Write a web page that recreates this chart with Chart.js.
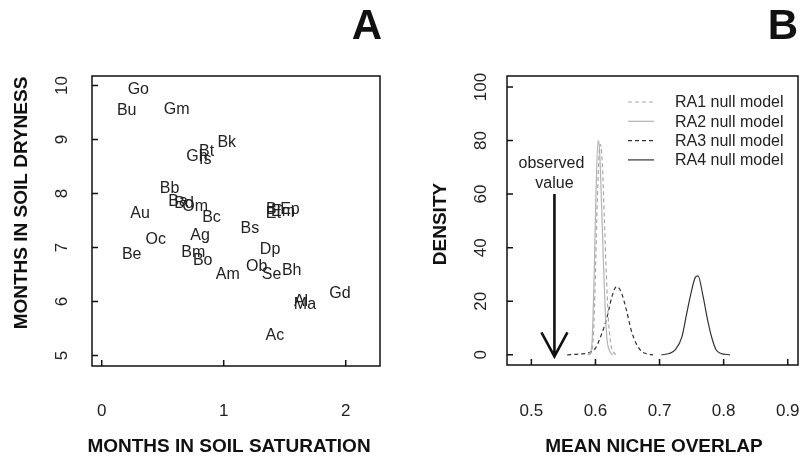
<!DOCTYPE html>
<html>
<head>
<meta charset="utf-8">
<script src="https://cdn.jsdelivr.net/npm/chart.js@4"></script>
<style>
  body { margin: 0; background: #fff; }
  canvas { position: absolute; left: 0; top: 0; }
</style>
</head>
<body>
<canvas id="panelA" width="801" height="463"></canvas>
<canvas id="panelB" width="801" height="463"></canvas>
<script>
// Panel A: especies y meses
const especies   = ["Go", "Bu", "Gm", "Bk", "Bt", "Gh", "Is", "Bb", "Ba", "Bd", "Om", "Bc", "Bs", "Br", "Em", "Ep", "Et", "Au", "Oc", "Ag", "Be", "Bm", "Bo", "Am", "Dp", "Ob", "Se", "Bh", "Gd", "Al", "Ma", "Ac"];
const saturacion = [0.30, 0.205, 0.615, 1.025, 0.86, 0.78, 0.848, 0.556, 0.626, 0.675, 0.766, 0.90, 1.215, 1.412, 1.486, 1.543, 1.407, 0.314, 0.443, 0.806, 0.246, 0.751, 0.828, 1.033, 1.38, 1.27, 1.393, 1.557, 1.953, 1.634, 1.666, 1.42];
const sequia     = [9.92, 9.54, 9.55, 8.95, 8.77, 8.68, 8.63, 8.09, 7.85, 7.81, 7.76, 7.55, 7.35, 7.70, 7.67, 7.70, 7.62, 7.63, 7.15, 7.23, 6.86, 6.90, 6.75, 6.49, 6.96, 6.64, 6.49, 6.57, 6.15, 5.99, 5.95, 5.36];
const ticksSaturacion = [0, 1, 2];
const ticksSequia = [5, 6, 7, 8, 9, 10];

// Panel B: densidades de los modelos nulos
const ra1X = [0.590, 0.594, 0.597, 0.600, 0.603, 0.606, 0.608, 0.611, 0.614, 0.617, 0.620, 0.624, 0.628, 0.633];
const ra1Y = [0, 1, 8, 30, 58, 76, 78.5, 70, 50, 30, 14, 4, 1, 0];
const ra2X = [0.588, 0.592, 0.595, 0.598, 0.601, 0.604, 0.606, 0.609, 0.612, 0.615, 0.618, 0.622, 0.627];
const ra2Y = [0, 1, 6, 30, 62, 80, 78, 60, 38, 18, 6, 1.5, 0];
const ra3X = [0.556, 0.575, 0.590, 0.600, 0.610, 0.618, 0.626, 0.633, 0.640, 0.648, 0.656, 0.664, 0.672, 0.680, 0.690];
const ra3Y = [0, 0.3, 0.8, 2.5, 8, 14, 22, 25.5, 23.5, 17, 9, 4, 1.3, 0.4, 0];
const ra4X = [0.703, 0.715, 0.725, 0.735, 0.742, 0.750, 0.756, 0.760, 0.768, 0.775, 0.782, 0.788, 0.795, 0.810];
const ra4Y = [0, 0.5, 2, 6.8, 15, 24, 29, 29.5, 21.7, 13, 6, 2, 0.6, 0];
const ticksSolape = [0.5, 0.6, 0.7, 0.8, 0.9];
const ticksDensidad = [0, 20, 40, 60, 80, 100];
const valorObservado = 0.536;

const fuente = '"Liberation Sans", Arial, sans-serif';
const negro = "#111";

const aPuntos = (xs, ys) => xs.map((x, i) => ({ x: x, y: ys[i] }));

// Marco, marcas hacia dentro, etiquetas del eje y giradas, títulos y letra del panel
const marco = {
  id: "marco",
  afterDraw(chart, args, o) {
    const { ctx, chartArea: a, scales: { x, y } } = chart;
    ctx.save();
    ctx.strokeStyle = negro;
    ctx.lineWidth = 1.5;
    ctx.strokeRect(a.left, a.top, a.right - a.left, a.bottom - a.top);
    ctx.beginPath();
    x.ticks.forEach(t => {
      const px = x.getPixelForValue(t.value);
      ctx.moveTo(px, a.bottom);
      ctx.lineTo(px, a.bottom - 6);
    });
    y.ticks.forEach(t => {
      const py = y.getPixelForValue(t.value);
      ctx.moveTo(a.left, py);
      ctx.lineTo(a.left + 6, py);
    });
    ctx.stroke();

    ctx.fillStyle = "#222";
    ctx.textAlign = "center";
    ctx.textBaseline = "middle";
    ctx.font = "17px " + fuente;
    y.ticks.forEach(t => {
      ctx.save();
      ctx.translate(o.yEtiquetaX, y.getPixelForValue(t.value));
      ctx.rotate(-Math.PI / 2);
      ctx.fillText(t.label, 0, 0);
      ctx.restore();
    });

    ctx.fillStyle = negro;
    ctx.font = "bold 19px " + fuente;
    ctx.fillText(o.tituloX, o.tituloXx, o.tituloXy);
    ctx.save();
    ctx.translate(o.tituloYx, o.tituloYy);
    ctx.rotate(-Math.PI / 2);
    ctx.fillText(o.tituloY, 0, 0);
    ctx.restore();

    ctx.font = "bold 42px " + fuente;
    ctx.fillText(o.letra, o.letraX, o.letraY);
    ctx.restore();
  }
};

// Nombres de especie en lugar de puntos
const etiquetas = {
  id: "etiquetas",
  afterDatasetsDraw(chart) {
    const ctx = chart.ctx;
    ctx.save();
    ctx.fillStyle = "#222";
    ctx.font = "16px " + fuente;
    ctx.textAlign = "center";
    ctx.textBaseline = "middle";
    chart.getDatasetMeta(0).data.forEach((p, i) => ctx.fillText(especies[i], p.x, p.y));
    ctx.restore();
  }
};

// Flecha del valor observado y leyenda
const extrasB = {
  id: "extrasB",
  afterDraw(chart) {
    const { ctx, scales: { x, y } } = chart;
    const px = x.getPixelForValue(valorObservado);
    const arriba = y.getPixelForValue(60);
    const punta = y.getPixelForValue(-0.6);
    ctx.save();
    ctx.strokeStyle = negro;
    ctx.lineWidth = 2.6;
    ctx.beginPath();
    ctx.moveTo(px, arriba);
    ctx.lineTo(px, punta);
    ctx.moveTo(px - 13, punta - 24);
    ctx.lineTo(px, punta);
    ctx.lineTo(px + 13, punta - 24);
    ctx.stroke();

    ctx.fillStyle = "#222";
    ctx.font = "16px " + fuente;
    ctx.textAlign = "center";
    ctx.textBaseline = "middle";
    ctx.fillText("observed", px - 3, 164);
    ctx.fillText("value", px, 184);

    ctx.textAlign = "left";
    chart.data.datasets.forEach((d, i) => {
      const ly = 102 + i * 19.3;
      ctx.strokeStyle = d.borderColor;
      ctx.lineWidth = 1.2;
      ctx.setLineDash(d.borderDash || []);
      ctx.beginPath();
      ctx.moveTo(628, ly);
      ctx.lineTo(654, ly);
      ctx.stroke();
      ctx.setLineDash([]);
      ctx.fillText(d.label, 675, ly + 1);
    });
    ctx.restore();
  }
};

const fijarTicks = valores => eje => { eje.ticks = valores.map(v => ({ value: v })); };
const ajustarX = alto => e => { e.height = alto; e.paddingLeft = 0; e.paddingRight = 0; };

new Chart(document.getElementById("panelA"), {
  type: "scatter",
  data: {
    datasets: [{
      label: "Especies",
      data: aPuntos(saturacion, sequia),
      pointRadius: 0,
      pointHoverRadius: 0
    }]
  },
  options: {
    responsive: false,
    animation: false,
    events: [],
    layout: { padding: { top: 76, right: 421, left: 0, bottom: 0 } },
    plugins: {
      legend: { display: false },
      tooltip: { enabled: false },
      marco: {
        yEtiquetaX: 62, letra: "A", letraX: 367, letraY: 27,
        tituloX: "MONTHS IN SOIL SATURATION", tituloXx: 229, tituloXy: 447,
        tituloY: "MONTHS IN SOIL DRYNESS", tituloYx: 22, tituloYy: 203
      }
    },
    scales: {
      x: {
        type: "linear", min: -0.0795, max: 2.281,
        afterBuildTicks: fijarTicks(ticksSaturacion),
        afterFit: ajustarX(97),
        grid: { display: false, drawTicks: false },
        border: { display: false },
        ticks: { autoSkip: false, padding: 35, color: "#222", font: { family: fuente, size: 17 } }
      },
      y: {
        type: "linear", min: 4.806, max: 10.176,
        afterBuildTicks: fijarTicks(ticksSequia),
        afterFit: e => { e.width = 92; },
        grid: { display: false, drawTicks: false },
        border: { display: false },
        ticks: { display: false }
      }
    }
  },
  plugins: [etiquetas, marco]
});

const estiloCurva = { pointRadius: 0, borderWidth: 1.2, cubicInterpolationMode: "monotone", fill: false, showLine: true };

new Chart(document.getElementById("panelB"), {
  type: "line",
  data: {
    datasets: [
      Object.assign({ label: "RA1 null model", data: aPuntos(ra1X, ra1Y), borderColor: "#aaaaaa", borderDash: [4, 3] }, estiloCurva),
      Object.assign({ label: "RA2 null model", data: aPuntos(ra2X, ra2Y), borderColor: "#b4b4b4" }, estiloCurva),
      Object.assign({ label: "RA3 null model", data: aPuntos(ra3X, ra3Y), borderColor: "#333333", borderDash: [4, 3] }, estiloCurva),
      Object.assign({ label: "RA4 null model", data: aPuntos(ra4X, ra4Y), borderColor: "#333333" }, estiloCurva)
    ]
  },
  options: {
    responsive: false,
    animation: false,
    events: [],
    layout: { padding: { top: 76, right: 3, left: 0, bottom: 0 } },
    plugins: {
      legend: { display: false },
      tooltip: { enabled: false },
      marco: {
        yEtiquetaX: 481, letra: "B", letraX: 783, letraY: 27,
        tituloX: "MEAN NICHE OVERLAP", tituloXx: 654, tituloXy: 447,
        tituloY: "DENSITY", tituloYx: 441, tituloYy: 224
      }
    },
    scales: {
      x: {
        type: "linear", min: 0.462, max: 0.916,
        afterBuildTicks: fijarTicks(ticksSolape),
        afterFit: ajustarX(98),
        grid: { display: false, drawTicks: false },
        border: { display: false },
        ticks: { autoSkip: false, padding: 36, color: "#222", font: { family: fuente, size: 17 } }
      },
      y: {
        type: "linear", min: -3.8, max: 104.1,
        afterBuildTicks: fijarTicks(ticksDensidad),
        afterFit: e => { e.width = 507; },
        grid: { display: false, drawTicks: false },
        border: { display: false },
        ticks: { display: false }
      }
    }
  },
  plugins: [extrasB, marco]
});
</script>
</body>
</html>
